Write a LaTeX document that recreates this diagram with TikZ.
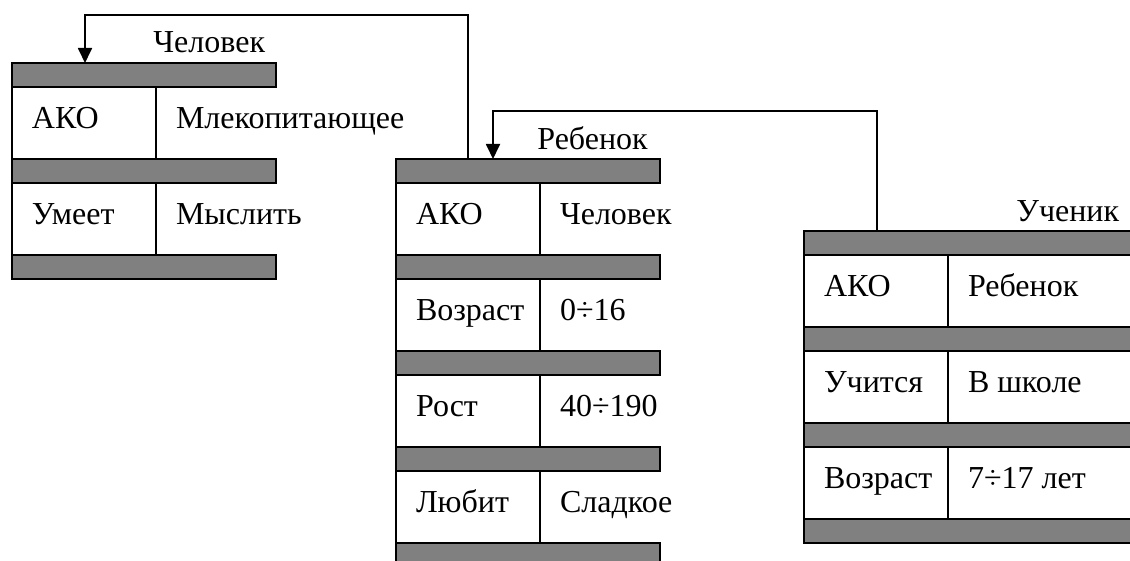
\documentclass[tikz,border=0pt]{standalone}
\usepackage{fontspec}
\setmainfont{Liberation Serif}
\usepackage{tikz}
\usetikzlibrary{
  arrows.meta,
  positioning
}
\definecolor{slotgray}{HTML}{808080}

\begin{document}
\begin{tikzpicture}[
  x=0.5pt, y=-0.5pt,
  every node/.style={font=\fontsize{16pt}{19pt}\selectfont},
  slot/.style={rectangle, draw, line width=0.9pt, fill=slotgray, outer sep=0pt,
               inner sep=0pt, minimum width=132pt, minimum height=12pt, anchor=north west},
  rule/.style={draw, line width=0.9pt},
  cell/.style={rectangle, outer sep=0pt, anchor=north west,
               inner xsep=10pt, inner ysep=0pt, minimum height=36pt,
               text height=10.5pt, text depth=5pt},
  keycell/.style={cell, text width=52pt, align=left,
                  execute at begin node={\hyphenpenalty=10000 },
                  append after command={
                    (\tikzlastnode.north west) edge[rule] (\tikzlastnode.south west)
                    (\tikzlastnode.north east) edge[rule] (\tikzlastnode.south east)}},
  valcell/.style={cell},
  title/.style={anchor=base west, inner sep=0pt},
  link/.style={-{Triangle[length=7.5pt, width=7pt]}, line width=0.9pt},
]
\useasboundingbox (0,0) rectangle (1130,561);
\clip (0,0) rectangle (1130,561);

% frame: Человек
\node[title] (chel-title) at (153,53) {Человек};
\node[slot] (chel-s1) at (12,63) {};
\node[keycell] (chel-k1) at (chel-s1.south west) {АКО};
\node[valcell] (chel-v1) at (chel-k1.north east) {Млекопитающее};
\node[slot] (chel-s2) at (chel-k1.south west) {};
\node[keycell] (chel-k2) at (chel-s2.south west) {Умеет};
\node[valcell] (chel-v2) at (chel-k2.north east) {Мыслить};
\node[slot] (chel-s3) at (chel-k2.south west) {};

% frame: Ребенок
\node[title] (reb-title) at (537,150) {Ребенок};
\node[slot] (reb-s1) at (396,159) {};
\node[keycell] (reb-k1) at (reb-s1.south west) {АКО};
\node[valcell] (reb-v1) at (reb-k1.north east) {Человек};
\node[slot] (reb-s2) at (reb-k1.south west) {};
\node[keycell] (reb-k2) at (reb-s2.south west) {Возраст};
\node[valcell] (reb-v2) at (reb-k2.north east) {0÷16};
\node[slot] (reb-s3) at (reb-k2.south west) {};
\node[keycell] (reb-k3) at (reb-s3.south west) {Рост};
\node[valcell] (reb-v3) at (reb-k3.north east) {40÷190};
\node[slot] (reb-s4) at (reb-k3.south west) {};
\node[keycell] (reb-k4) at (reb-s4.south west) {Любит};
\node[valcell] (reb-v4) at (reb-k4.north east) {Сладкое};
\node[slot] (reb-s5) at (reb-k4.south west) {};

% frame: Ученик
\node[title] (uch-title) at (1016,222) {Ученик};
\node[slot, minimum width=172pt] (uch-s1) at (804,231) {};
\node[keycell] (uch-k1) at (uch-s1.south west) {АКО};
\node[valcell] (uch-v1) at (uch-k1.north east) {Ребенок};
\node[slot, minimum width=172pt] (uch-s2) at (uch-k1.south west) {};
\node[keycell] (uch-k2) at (uch-s2.south west) {Учится};
\node[valcell] (uch-v2) at (uch-k2.north east) {В школе};
\node[slot, minimum width=172pt] (uch-s3) at (uch-k2.south west) {};
\node[keycell] (uch-k3) at (uch-s3.south west) {Возраст};
\node[valcell] (uch-v3) at (uch-k3.north east) {7÷17 лет};
\node[slot, minimum width=172pt] (uch-s4) at (uch-k3.south west) {};

% AKO links
\coordinate (reb-out) at ([xshift=36pt]reb-s1.north west);
\coordinate (chel-in) at ([xshift=36.5pt]chel-s1.north west);
\coordinate (bend1) at (300,15);
\draw[link] (reb-out) -- (reb-out |- bend1) -| (chel-in);

\coordinate (uch-out) at ([xshift=36.5pt]uch-s1.north west);
\coordinate (reb-in) at ([xshift=48.5pt]reb-s1.north west);
\coordinate (bend2) at (700,111);
\draw[link] (uch-out) -- (uch-out |- bend2) -| (reb-in);
\end{tikzpicture}
\end{document}
